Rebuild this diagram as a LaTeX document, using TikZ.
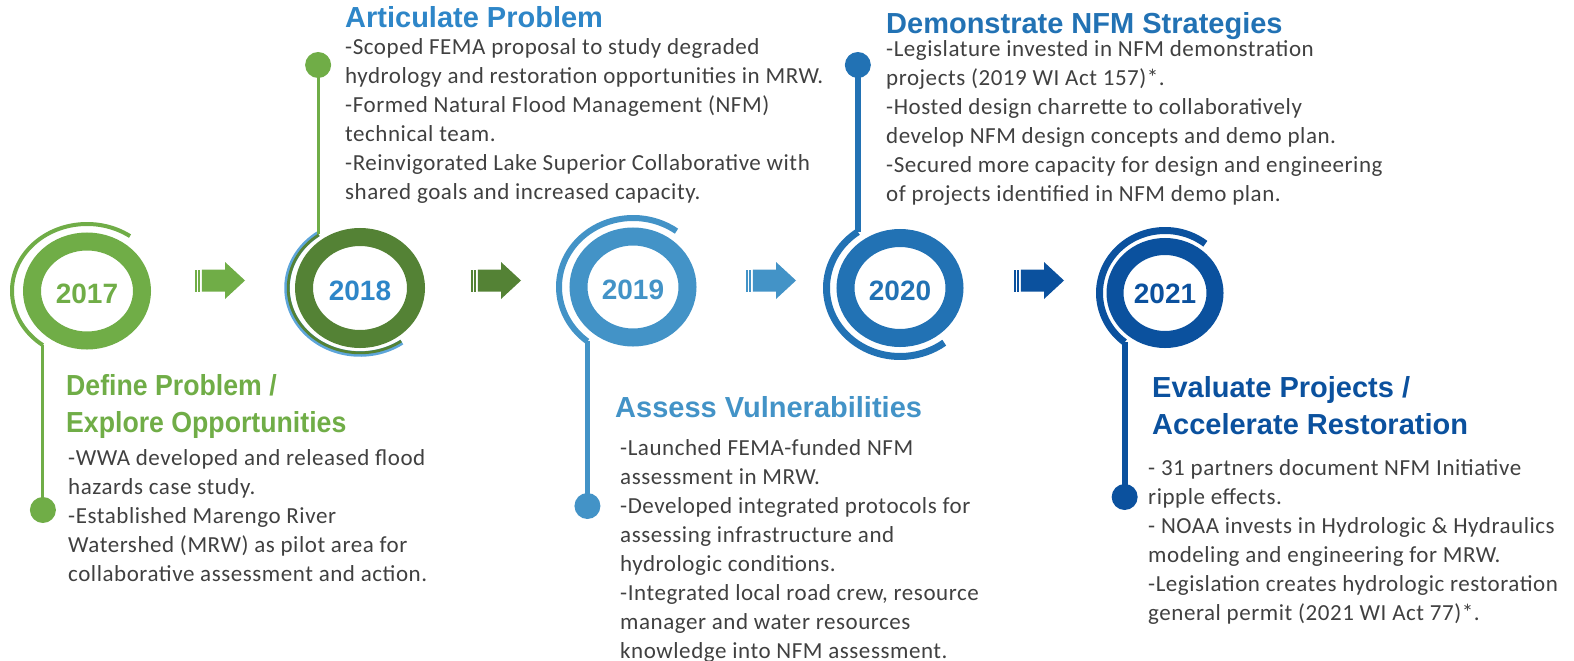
\documentclass[tikz,border=0pt]{standalone}
\usepackage{fontspec}
\setmainfont{Carlito}[LetterSpace=2.4]
\newfontfamily\headfont{Liberation Sans}

\definecolor{grnA}{HTML}{70AD47}
\definecolor{grnB}{HTML}{548235}
\definecolor{bluA}{HTML}{2E86C8}
\definecolor{bluStripe}{HTML}{5DA5DA}
\definecolor{bluB}{HTML}{4393C7}
\definecolor{bluC}{HTML}{2272B4}
\definecolor{bluD}{HTML}{0B519E}
\definecolor{bodygray}{HTML}{404040}

\tikzset{
  ring/.style={line width=18pt},
  yearlbl/.style={font=\headfont\bfseries\fontsize{28}{32}\selectfont, inner sep=0pt},
  headblock/.style={anchor=north west, inner sep=0pt, align=left,
    font=\headfont\bfseries\fontsize{29}{37}\selectfont},
  bodyblock/.style={anchor=north west, inner sep=0pt, align=left, text=bodygray,
    font=\fontsize{23}{29}\selectfont},
  pindot/.style={circle, inner sep=0pt, minimum size=26pt},
  blockarrow/.pic={
    \fill (0,-11) rectangle (1.8,11);
    \fill (3.3,-11) rectangle (5.3,11);
    \fill (6.8,-11) -- (30,-11) -- (30,-18.5) -- (50,0) -- (30,18.5) -- (30,11) -- (6.8,11) -- cycle;
  }
}

\begin{document}
\begin{tikzpicture}[x=1pt, y=1pt]
\useasboundingbox (0,0) rectangle (1574,-661);

% ring centres
\coordinate (c17) at (87,-291);
\coordinate (c18) at (360,-288);
\coordinate (c19) at (633,-287);
\coordinate (c20) at (900,-288);
\coordinate (c21) at (1165,-293);

% ---------------- 2017 ----------------
\draw[ring, grnA] (c17) ellipse [x radius=55pt, y radius=49.5pt];
\draw[grnA, line width=4pt] (c17) ++(55:75 and 67)
  arc[start angle=55, end angle=234, x radius=75pt, y radius=67pt] coordinate (e17);
\node[pindot, fill=grnA] (d17) at (e17 |- 0,-510) {};
\draw[grnA, line width=3pt] (e17) -- (d17.center);
\node[yearlbl, text=grnA] (y17) at ([yshift=-2.5pt]c17) {2017};

% ---------------- 2018 ----------------
\draw[ring, grnB] (c18) ellipse [x radius=56pt, y radius=51pt];
\draw[bluStripe, line width=5.5pt] (c18) ++(125:73 and 66) coordinate (s18)
  arc[start angle=125, end angle=305, x radius=73pt, y radius=66pt];
\draw[grnB, line width=2.8pt] (c18) ++(125:71.8 and 64.8)
  arc[start angle=125, end angle=305, x radius=71.8pt, y radius=64.8pt];
\node[pindot, fill=grnA] (d18) at (s18 |- 0,-65) {};
\draw[grnA, line width=3pt] (s18) -- (d18.center);
\node[yearlbl, text=bluA] (y18) at ([yshift=-2.5pt]c18) {2018};

% ---------------- 2019 ----------------
\draw[ring, bluB] (c19) ellipse [x radius=54.5pt, y radius=50.5pt];
\draw[bluB, line width=6pt] (c19) ++(54:74 and 69)
  arc[start angle=54, end angle=232, x radius=74pt, y radius=69pt] coordinate (e19);
\node[pindot, fill=bluB] (d19) at (e19 |- 0,-506) {};
\draw[bluB, line width=5pt] (e19) -- (d19.center);
\node[yearlbl, text=bluB] (y19) at ([yshift=-2.5pt]c19) {2019};

% ---------------- 2020 ----------------
\draw[ring, bluC] (c20) ellipse [x radius=54.5pt, y radius=50pt];
\draw[bluC, line width=7pt] (c20) ++(125:73.5 and 68.5) coordinate (s20)
  arc[start angle=125, end angle=307, x radius=73.5pt, y radius=68.5pt];
\node[pindot, fill=bluC] (d20) at (s20 |- 0,-65) {};
\draw[bluC, line width=6pt] (s20) -- (d20.center);
\node[yearlbl, text=bluC] (y20) at ([yshift=-2.5pt]c20) {2020};

% ---------------- 2021 ----------------
\draw[ring, bluD, line width=17pt] (c21) ellipse [x radius=50pt, y radius=46.5pt];
\draw[bluD, line width=7pt] (c21) ++(52:65.5 and 62.5)
  arc[start angle=52, end angle=232, x radius=65.5pt, y radius=62.5pt] coordinate (e21);
\node[pindot, fill=bluD] (d21) at (e21 |- 0,-497) {};
\draw[bluD, line width=6pt] (e21) -- (d21.center);
\node[yearlbl, text=bluD] (y21) at ([yshift=-1pt]c21) {2021};

% ---------------- arrows between years ----------------
\pic (ar1) [fill=grnA] at (195,-280.5) {blockarrow};
\pic (ar2) [fill=grnB] at (471,-280.5) {blockarrow};
\pic (ar3) [fill=bluB] at (746,-280.5) {blockarrow};
\pic (ar4) [fill=bluD] at (1014,-280.5) {blockarrow};

% ---------------- headings ----------------
\node[headblock, text=grnA, xscale=0.92, transform shape] (h17) at (66,-369.1) {\strut Define Problem /\\Explore Opportunities};
\node[headblock, text=bluA] (h18) at (345,-1.6) {\strut Articulate Problem};
\node[headblock, text=bluB] (h19) at (615,-391.1) {\strut Assess Vulnerabilities};
\node[headblock, text=bluC] (h20) at (886,-7.1) {\strut Demonstrate NFM Strategies};
\node[headblock, text=bluD] (h21) at (1152,-371.1) {\strut Evaluate Projects /\\Accelerate Restoration};

% ---------------- body texts ----------------
\node[bodyblock] (b17) at (68,-444.7) {\strut -WWA developed and released flood\\
hazards case study.\\
-Established Marengo River\\
Watershed (MRW) as pilot area for\\
collaborative assessment and action.};

\node[bodyblock] (b18) at (345,-33.7) {\strut -Scoped FEMA proposal to study degraded\\
hydrology and restoration opportunities in MRW.\\
-Formed Natural Flood Management (NFM)\\
technical team.\\
-Reinvigorated Lake Superior Collaborative with\\
shared goals and increased capacity.};

\node[bodyblock] (b19) at (620,-434.7) {\strut -Launched FEMA-funded NFM\\
assessment in MRW.\\
-Developed integrated protocols for\\
assessing infrastructure and\\
hydrologic conditions.\\
-Integrated local road crew, resource\\
manager and water resources\\
knowledge into NFM assessment.};

\node[bodyblock] (b20) at (886,-36.4) {\strut -Legislature invested in NFM demonstration\\
projects (2019 WI Act 157)*.\\
-Hosted design charrette to collaboratively\\
develop NFM design concepts and demo plan.\\
-Secured more capacity for design and engineering\\
of projects identified in NFM demo plan.};

\node[bodyblock] (b21) at (1148,-454.7) {\strut - 31 partners document NFM Initiative\\
ripple effects.\\
- NOAA invests in Hydrologic \& Hydraulics\\
modeling and engineering for MRW.\\
-Legislation creates hydrologic restoration\\
general permit (2021 WI Act 77)*.};

\end{tikzpicture}
\end{document}
